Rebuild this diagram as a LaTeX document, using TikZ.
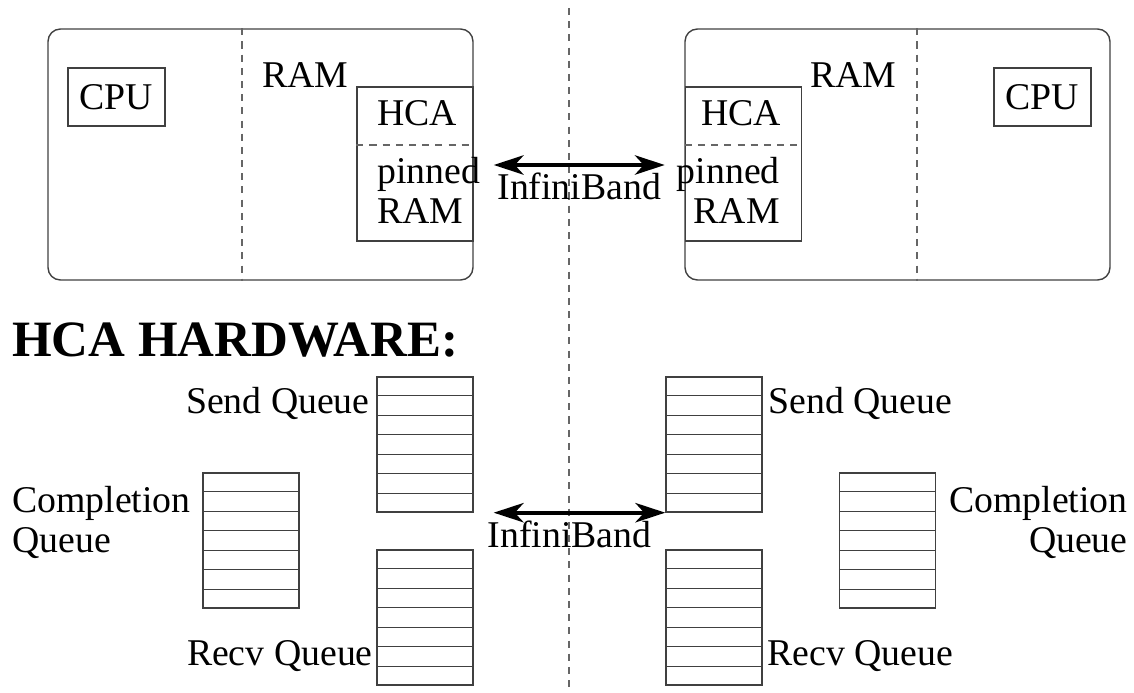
\documentclass[tikz,border=0pt]{standalone}
\usepackage{fontspec}
\setmainfont{Liberation Serif}
\usetikzlibrary{positioning,calc,arrows.meta}
\tikzset{
  board/.style={draw=black!75, line width=0.8pt, rounded corners=7pt, inner sep=0, minimum width=8.5cm, minimum height=5.02cm},
  unit/.style={draw=black!75, line width=0.8pt, inner sep=0, minimum width=1.94cm, minimum height=1.16cm},
  hca/.style={draw=black!75, line width=0.8pt, inner sep=0, minimum width=2.32cm, minimum height=3.08cm},
  queue/.style={draw=black!75, line width=0.8pt, inner sep=0, minimum width=1.92cm, minimum height=2.7cm},
  divider/.style={draw=black!60, line width=0.8pt, dash pattern=on 4pt off 3.5pt},
  ib/.style={{Stealth[length=17pt,width=11pt,inset=5pt]}-{Stealth[length=17pt,width=11pt,inset=5pt]}, line width=2.3pt},
  txt/.style={inner sep=0}
}

\begin{document}
\begin{tikzpicture}[x=0.02cm, y=-0.02cm, font=\fontsize{21.5}{23}\selectfont]

\useasboundingbox (0,0) rectangle (1134,693);

% Rechner
\node [board] (boardL) at (260.5,154.5) {};
\node [board] (boardR) at (897.5,154.5) {};
\node [unit] (cpuL) at (116.5,97) {CPU};
\node [unit] (cpuR) at (1042.5,97) {CPU};
\node [hca] (hcaL) at (415,164) {};
\node [hca] (hcaR) at (743.5,164) {};

% Beschriftung
\node [txt, anchor=base west] (ramL) at (262,87) {RAM};
\node [txt, anchor=base west] (ramR) at (810,87) {RAM};
\node [txt, anchor=base west] (hcatxtL) at (377,125) {HCA};
\node [txt, anchor=base west] (hcatxtR) at (701,125) {HCA};
\node [txt, anchor=north west, align=left] (pinL) at (377,157) {pinned\\RAM};
\node [txt, anchor=north east, align=right] (pinR) at (780,157) {pinned\\RAM};

% Trennlinien
\coordinate (midtop) at (569,8);
\coordinate (midbot) at (569,693);
\draw [divider] (midtop) -- (midbot);
\draw [divider] (242,0 |- boardL.north) -- (242,0 |- boardL.south);
\draw [divider] (917,0 |- boardR.north) -- (917,0 |- boardR.south);
\draw [divider] (hcaL.west |- 0,145) -- (hcaL.east |- 0,145);
\draw [divider] (hcaR.west |- 0,145) -- (hcaR.east |- 0,145);

% Hardware
\node [txt, anchor=base west, font=\fontsize{29}{32}\selectfont\bfseries] (title) at (12,356) {HCA HARDWARE:};
\node [queue] (sqL) at (425,444.5) {};
\node [queue] (rqL) at (425,617.5) {};
\node [queue] (cqL) at (251,540.5) {};
\node [queue] (sqR) at (714,444.5) {};
\node [queue] (rqR) at (714,617.5) {};
\node [queue] (cqR) at (887.5,540.5) {};
\foreach \q in {sqL,rqL,cqL,sqR,rqR,cqR}
  \foreach \i in {1,...,6}
    \draw [black!75, line width=0.8pt] ($(\q.north west)!\i/7!(\q.south west)$) -- ($(\q.north east)!\i/7!(\q.south east)$);

\node [txt, anchor=base east] (sqtxtL) at (370,413) {Send Queue};
\node [txt, anchor=base east] (rqtxtL) at (373,665) {Recv Queue};
\node [txt, anchor=base west] (sqtxtR) at (768,413) {Send Queue};
\node [txt, anchor=base west] (rqtxtR) at (767,665) {Recv Queue};
\node [txt, anchor=north west, align=left] (cqtxtL) at (12,486) {Completion\\Queue};
\node [txt, anchor=north east, align=right] (cqtxtR) at (1128,486) {Completion\\Queue};

% Verbindungen
\draw [ib, shorten <=0.4cm, shorten >=0.4cm] (hcaL.east |- 0,165) -- node[below] {InfiniBand} (hcaR.west |- 0,165);
\draw [ib, shorten <=0.4cm] (sqL.south east) -- node[below] {InfiniBand} (sqR.south west);

\end{tikzpicture}
\end{document}
